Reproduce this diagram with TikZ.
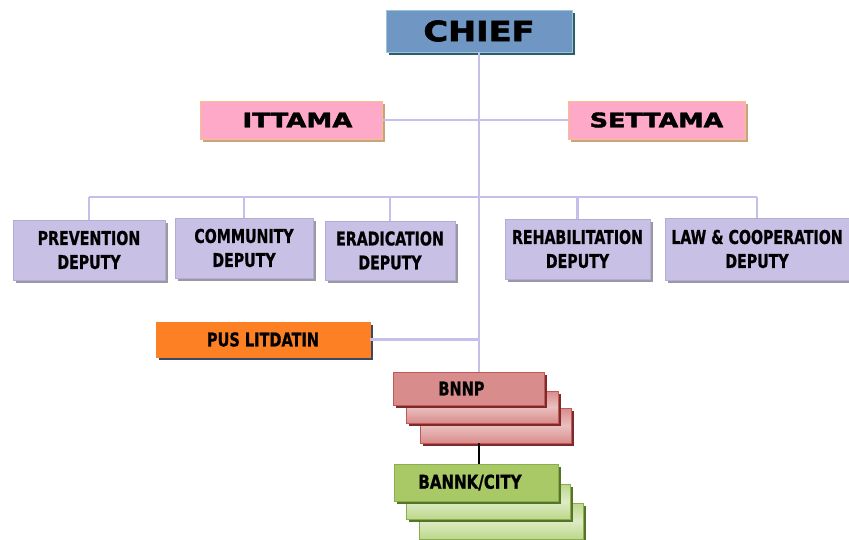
\documentclass[tikz,border=0pt]{standalone}
\usepackage{fontspec}
\setmainfont{DejaVu Sans}
\newfontfamily\heavy{DejaVu Sans}[BoldFeatures={FakeBold=2}]
\newfontfamily\cond{DejaVu Sans Condensed}[BoldFeatures={FakeBold=1}]
\usepackage{graphicx}
\usetikzlibrary{shadows}
\definecolor{chieffill}{HTML}{7096C4}
\definecolor{chiefborder}{HTML}{9CC4D8}
\definecolor{chiefshadow}{HTML}{2E5E6A}
\definecolor{pinkfill}{HTML}{FFA9C9}
\definecolor{pinkborder}{HTML}{F5C08A}
\definecolor{pinkshadow}{HTML}{C9A27E}
\definecolor{lavfill}{HTML}{C9C0E6}
\definecolor{lavborder}{HTML}{B4ACD6}
\definecolor{lavshadow}{HTML}{9A98A0}
\definecolor{linecol}{HTML}{C4C0EA}
\definecolor{orfill}{HTML}{FD8024}
\definecolor{orshadow}{HTML}{3A4A60}
\definecolor{redfill}{HTML}{D98C8C}
\definecolor{redborder}{HTML}{C05858}
\definecolor{redshadow}{HTML}{7E2A2A}
\definecolor{grfill}{HTML}{A8C965}
\definecolor{grback}{HTML}{BCD88A}
\definecolor{grborder}{HTML}{8AAE4E}
\definecolor{grshadow}{HTML}{56732A}
\newcommand{\hs}[2]{\scalebox{#1}[1]{#2}}
\begin{document}
\begin{tikzpicture}[x=1pt,y=-1pt,
  box/.style={draw, line width=0.8pt, inner sep=0pt, align=center},
  chiefbox/.style={box, fill=chieffill, draw=chiefborder,
    drop shadow={shadow xshift=3pt, shadow yshift=-3pt, fill=chiefshadow, opacity=1},
    font=\heavy\bfseries\fontsize{28}{28}\selectfont},
  pinkbox/.style={box, fill=pinkfill, draw=pinkborder,
    drop shadow={shadow xshift=3pt, shadow yshift=-3pt, fill=pinkshadow, opacity=1},
    font=\heavy\bfseries\fontsize{20}{20}\selectfont},
  depbox/.style={box, fill=lavfill, draw=lavborder,
    drop shadow={shadow xshift=2.5pt, shadow yshift=-2.5pt, fill=lavshadow, opacity=1},
    font=\cond\bfseries\fontsize{19}{24}\selectfont},
  orbox/.style={box, fill=orfill, draw=orfill,
    drop shadow={shadow xshift=3pt, shadow yshift=-3pt, fill=orshadow, opacity=1},
    font=\cond\bfseries\fontsize{19}{19}\selectfont},
  redbox/.style={box, fill=redfill, draw=redborder,
    drop shadow={shadow xshift=2.5pt, shadow yshift=-2.5pt, fill=redshadow, opacity=1},
    font=\cond\bfseries\fontsize{19}{19}\selectfont},
  redback/.style={redbox, top color=redfill, bottom color=redfill, middle color=redfill!55!white},
  grbox/.style={box, fill=grfill, draw=grborder,
    drop shadow={shadow xshift=2.5pt, shadow yshift=-2.5pt, fill=grshadow, opacity=1},
    font=\cond\bfseries\fontsize{19}{19}\selectfont},
  grbackbox/.style={grbox, top color=grback, bottom color=grback, middle color=grback!50!white},
  conn/.style={draw=linecol, line width=2.5pt},
  blackconn/.style={draw=black, line width=2.5pt}
]
\useasboundingbox (0,0) rectangle (849,539);

\coordinate (bus) at (479,197);

% boxes
\node[chiefbox, minimum width=186pt, minimum height=42pt] (chief) at (479,31) {\hs{1.2}{CHIEF}};
\node[pinkbox, minimum width=182pt, minimum height=38pt] (ittama) at (291,120) {\hs{1.3}{\hspace{10pt}ITTAMA}};
\node[pinkbox, minimum width=177pt, minimum height=38pt] (settama) at (656.5,120) {\hs{1.27}{SETTAMA}};

\node[depbox, minimum width=152pt, minimum height=60pt] (prev) at (89,250) {\hs{0.83}{PREVENTION}\\\hs{0.83}{DEPUTY}};
\node[depbox, minimum width=138pt, minimum height=60pt] (comm) at (244,248) {\hs{0.83}{COMMUNITY}\\\hs{0.83}{DEPUTY}};
\node[depbox, minimum width=130pt, minimum height=59pt] (erad) at (390,250.5) {\hs{0.83}{ERADICATION}\\\hs{0.83}{DEPUTY}};
\node[depbox, minimum width=145pt, minimum height=60pt] (rehab) at (577.5,249) {\hs{0.83}{REHABILITATION}\\\hs{0.83}{DEPUTY}};
\node[depbox, minimum width=184pt, minimum height=62pt] (law) at (757,249) {\hs{0.83}{LAW \& COOPERATION}\\\hs{0.83}{DEPUTY}};

\node[orbox, minimum width=214pt, minimum height=35pt] (pus) at (263,339.5) {\hs{0.85}{PUS LITDATIN}};

\node[redback, minimum width=151pt, minimum height=35pt] (bnnpc) at (495.5,425.5) {};
\node[redback, minimum width=152pt, minimum height=32pt] (bnnpb) at (482,407) {};
\node[redbox, minimum width=151pt, minimum height=33pt] (bnnp) at (468.5,388.5) {\hs{0.85}{BNNP}\hspace{14pt}};

\node[grbackbox, minimum width=164pt, minimum height=36pt] (cityc) at (501,521) {};
\node[grbackbox, minimum width=164pt, minimum height=35pt] (cityb) at (488,501.5) {};
\node[grbox, minimum width=164pt, minimum height=37pt] (city) at (476,482.5) {\hs{0.88}{BANNK/CITY}\hspace{12pt}};

% connectors
\draw[conn] (chief.south) -- (chief.south |- bnnp.north);
\draw[conn] (ittama.east) -- (settama.west);
\draw[conn] (prev.north |- bus) -- (law.north |- bus);
\draw[conn] (prev.north) -- (prev.north |- bus);
\draw[conn] (comm.north) -- (comm.north |- bus);
\draw[conn] (erad.north) -- (erad.north |- bus);
\draw[conn] (rehab.north) -- (rehab.north |- bus);
\draw[conn] (law.north) -- (law.north |- bus);
\draw[conn] (pus.east) -- (pus.east -| chief.south);
\draw[blackconn] (bnnpc.south -| chief.south) -- (city.north -| chief.south);
\end{tikzpicture}
\end{document}
